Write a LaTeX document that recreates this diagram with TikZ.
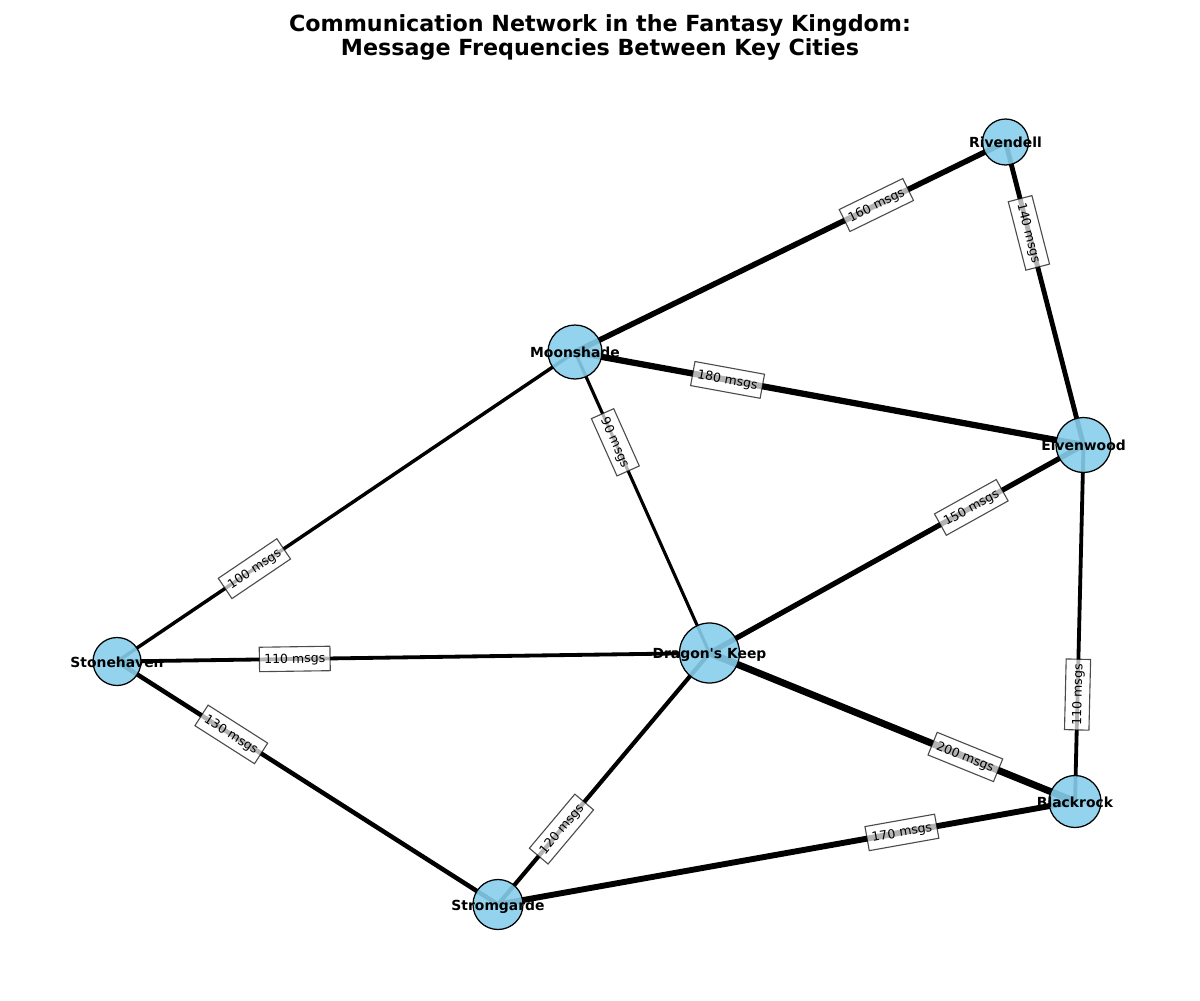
\documentclass[tikz,border=0pt]{standalone}
\usepackage{fontspec}
\setmainfont{DejaVu Sans}
\usetikzlibrary{backgrounds}
\definecolor{skyblue}{HTML}{87CEEB}

\begin{document}
\begin{tikzpicture}[
    x = 0.72pt, y = -0.72pt, % one unit = one pixel, y downwards
    line cap = butt,
    link/.style = {draw = black, line width = {#1pt/40}}, % width from message count
    msg/.style = {sloped, pos = 0.3,
        font = \fontsize{9}{10}\selectfont,
        fill = white, fill opacity = 0.7, text opacity = 1,
        draw = black, draw opacity = 0.7, line width = 0.8pt,
        inner xsep = 3.5pt, inner ysep = 3.3pt,
        text height = 8.5pt, text depth = 2.5pt},
    title/.style = {anchor = north, align = center, inner sep = 0pt,
        font = \fontsize{16}{17.5}\selectfont\bfseries}
    ]

    \tikzset{
    city/.style = {circle, draw = black, line width = 0.9pt,
        fill = skyblue, fill opacity = 0.9, inner sep = 0pt,
        minimum size = {2*#1*0.72pt}},
    cityname/.style = {font = \fontsize{10}{12}\selectfont\bfseries,
        text height = 10pt, text depth = 1.8pt, inner sep = 0pt}
    }

    \useasboundingbox (0,0) rectangle (1200,1000);

    \node[title] (head) at (600,14) {Communication Network in the Fantasy Kingdom:\\Message Frequencies Between Key Cities};

    % cities
    \node[city=23, label={[cityname]center:Rivendell}] (riv) at (1005.5,142) {};
    \node[city=27, label={[cityname]center:Moonshade}] (moon) at (575,352) {};
    \node[city=27.5, label={[cityname]center:Elvenwood}] (elv) at (1083.5,445) {};
    \node[city=24, label={[cityname]center:Stonehaven}] (ston) at (117,661.5) {};
    \node[city=30, label={[cityname]center:Dragon\textquotesingle s Keep}] (dk) at (709.5,653) {};
    \node[city=26, label={[cityname]center:Blackrock}] (br) at (1075,801.5) {};
    \node[city=25, label={[cityname]center:Stromgarde}] (strom) at (498,904.5) {};

    % routes, behind the cities
    \begin{scope}[on background layer]
    \path (riv.center) edge[link=160] node[msg]{160 msgs} (moon.center);
    \path (riv.center) edge[link=140] node[msg]{140 msgs} (elv.center);
    \path (moon.center) edge[link=180] node[msg]{180 msgs} (elv.center);
    \path (moon.center) edge[link=90] node[msg]{90 msgs} (dk.center);
    \path (ston.center) edge[link=100] node[msg]{100 msgs} (moon.center);
    \path (ston.center) edge[link=110] node[msg]{110 msgs} (dk.center);
    \path (ston.center) edge[link=130] node[msg]{130 msgs} (strom.center);
    \path (strom.center) edge[link=120] node[msg]{120 msgs} (dk.center);
    \path (elv.center) edge[link=150] node[msg]{150 msgs} (dk.center);
    \path (br.center) edge[link=110] node[msg]{110 msgs} (elv.center);
    \path (br.center) edge[link=170] node[msg]{170 msgs} (strom.center);
    \path (br.center) edge[link=200] node[msg]{200 msgs} (dk.center);
    \end{scope}
\end{tikzpicture}
\end{document}
